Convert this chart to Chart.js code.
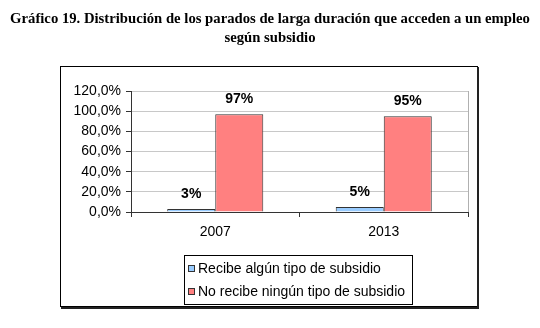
<!DOCTYPE html>
<html lang="es">
<head>
<meta charset="utf-8">
<title>Gráfico 19</title>
<script src="https://cdn.jsdelivr.net/npm/chart.js@4.4.1/dist/chart.umd.min.js"></script>
<style>
    html, body { margin: 0; padding: 0; background: #fff; }
    #wrap { position: relative; width: 540px; height: 328px; }
</style>
</head>
<body>
<div id="wrap"><canvas id="chart" width="540" height="328"></canvas></div>
<script>
const categories = ['2007', '2013'];
const recibeSubsidio = [3, 5];
const noRecibeSubsidio = [97, 95];
const seriesNames = ['Recibe algún tipo de subsidio', 'No recibe ningún tipo de subsidio'];
const yTicks = [0, 20, 40, 60, 80, 100, 120];
const titleLines = [
    'Gráfico 19. Distribución de los parados de larga duración que acceden a un empleo',
    'según subsidio'
];

const SANS = 'Arial, "Liberation Sans", sans-serif';
const SERIF = '"Times New Roman", "Liberation Serif", serif';

// title, outer frame, plot border and legend box
const decorations = {
    id: 'decorations',
    beforeDraw(chart) {
        const ctx = chart.ctx;
        ctx.save();
        ctx.fillStyle = '#000';
        ctx.font = 'bold 14.7px ' + SERIF;
        ctx.textAlign = 'center';
        ctx.textBaseline = 'middle';
        ctx.fillText(titleLines[0], 270, 19);
        ctx.fillText(titleLines[1], 270, 38);

        // outer frame with shadow on right/bottom
        ctx.strokeStyle = '#000';
        ctx.lineWidth = 1;
        ctx.strokeRect(60.5, 66.5, 417, 240);
        ctx.fillStyle = '#222';
        ctx.fillRect(477, 67, 2, 242);
        ctx.fillRect(61, 307, 418, 2);
        ctx.restore();
    },
    afterDatasetsDraw(chart) {
        const ctx = chart.ctx;
        const area = chart.chartArea;
        ctx.save();
        ctx.strokeStyle = '#b0b0b0';
        ctx.lineWidth = 1;
        ctx.beginPath();
        ctx.moveTo(Math.round(area.right) + 0.5, area.top);
        ctx.lineTo(Math.round(area.right) + 0.5, area.bottom);
        ctx.stroke();

        // value labels above the bars
        ctx.fillStyle = '#000';
        ctx.font = 'bold 14px ' + SANS;
        ctx.textAlign = 'center';
        ctx.textBaseline = 'middle';
        chart.data.datasets.forEach((ds, i) => {
            chart.getDatasetMeta(i).data.forEach((bar, j) => {
                ctx.fillText(ds.data[j] + '%', bar.x, bar.y - 15);
            });
        });

        // legend
        const lx = 184, ly = 255, lw = 228, lh = 49;
        ctx.strokeStyle = '#000';
        ctx.strokeRect(lx + 0.5, ly + 0.5, lw, lh);
        ctx.font = '14px ' + SANS;
        ctx.textAlign = 'left';
        chart.data.datasets.forEach((ds, i) => {
            const cy = ly + 14 + i * 23;
            ctx.fillStyle = ds.backgroundColor;
            ctx.fillRect(188, cy - 4, 7, 7);
            ctx.strokeStyle = '#333';
            ctx.strokeRect(188.5, cy - 3.5, 6, 6);
            ctx.fillStyle = '#000';
            ctx.fillText(ds.label, 198, cy);
        });
        ctx.restore();
    }
};

new Chart(document.getElementById('chart'), {
    type: 'bar',
    data: {
        labels: categories,
        datasets: [
            {
                label: seriesNames[0],
                data: recibeSubsidio,
                backgroundColor: '#99ccff',
                borderColor: '#333',
                borderWidth: 1,
                barPercentage: 1,
                categoryPercentage: 0.57
            },
            {
                label: seriesNames[1],
                data: noRecibeSubsidio,
                backgroundColor: '#ff8080',
                borderColor: '#333',
                borderWidth: 1,
                barPercentage: 1,
                categoryPercentage: 0.57
            }
        ]
    },
    options: {
        responsive: false,
        animation: false,
        events: [],
        layout: { padding: { left: 0, right: 72, top: 91, bottom: 0 } },
        plugins: {
            legend: { display: false },
            title: { display: false },
            tooltip: { enabled: false }
        },
        scales: {
            x: {
                grid: {
                    drawOnChartArea: false,
                    tickLength: 5,
                    tickColor: '#333'
                },
                border: { color: '#333' },
                ticks: {
                    color: '#000',
                    font: { family: SANS, size: 14 },
                    padding: 7
                },
                afterFit(scale) { scale.height = 116; }
            },
            y: {
                min: 0,
                max: 120,
                afterBuildTicks(scale) {
                    scale.ticks = yTicks.map(v => ({ value: v }));
                },
                grid: {
                    color: '#c8c8c8',
                    tickLength: 5,
                    tickColor: '#333'
                },
                border: { color: '#333' },
                ticks: {
                    color: '#000',
                    font: { family: SANS, size: 14 },
                    padding: 5,
                    callback: v => v.toFixed(1).replace('.', ',') + '%'
                },
                afterFit(scale) { scale.width = 131; }
            }
        }
    },
    plugins: [decorations]
});
</script>
</body>
</html>
